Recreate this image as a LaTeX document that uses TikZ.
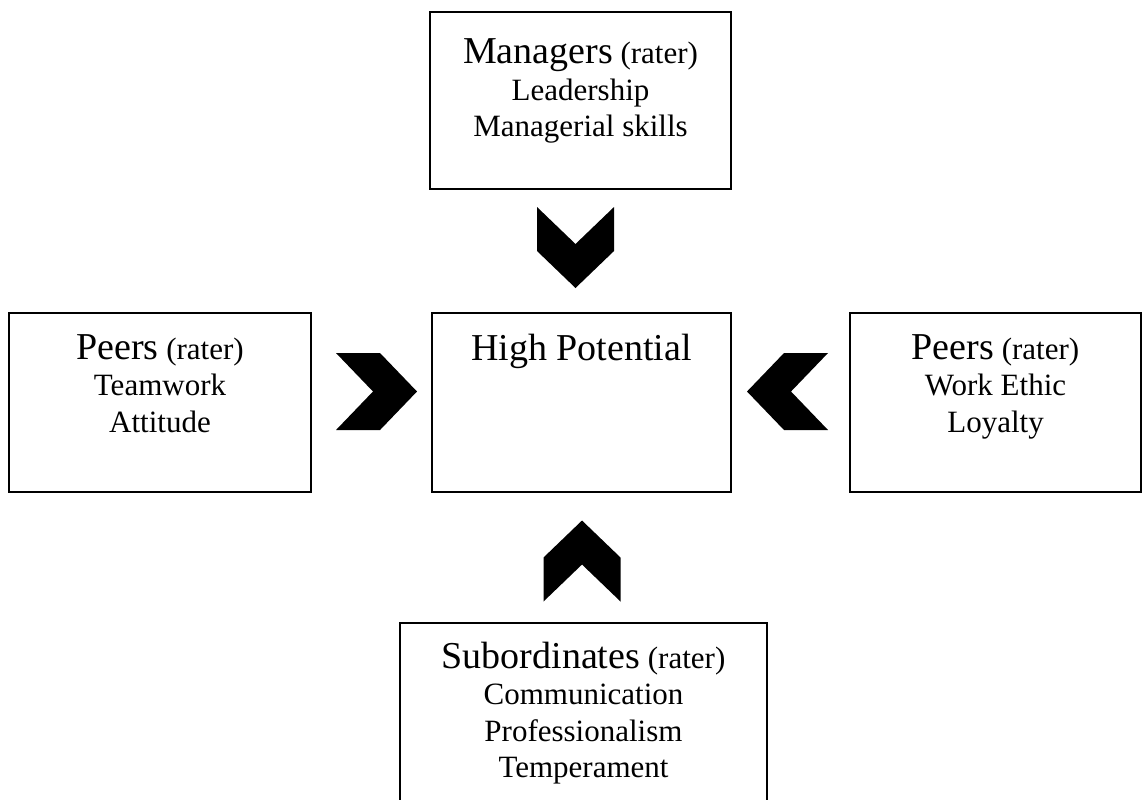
\documentclass[tikz,border=0pt]{standalone}
\usepackage{fontspec}
\setmainfont{Liberation Serif}
\usetikzlibrary{positioning}
\newcommand\bigsz{\fontsize{19}{18.25}\selectfont}
\newcommand\smallsz{\fontsize{15.5}{18.25}\selectfont}
\newcommand\chevron[3]{\fill[shift={(#1,#2)},rotate=#3] (-40.5,-38.5) -- (3.5,-38.5) -- (40.5,0) -- (3.5,38.5) -- (-40.5,38.5) -- (-3.5,0) -- cycle;}
\tikzset{
  ratebox/.style={draw, line width=1pt, inner sep=0pt, minimum height=89.5pt},
  ratetext/.style={align=center, inner sep=0pt, font=\smallsz}
}

\begin{document}
\begin{tikzpicture}[x=0.5pt,y=-0.5pt]
\useasboundingbox (0,0) rectangle (1143,799);
\clip (0,0) rectangle (1143,799);
% boxes
\node[ratebox, minimum width=150.5pt, minimum height=88.5pt] (mgr) at (580.5,100.5) {};
\node[ratebox, minimum width=149.5pt] (hp) at (581.5,402.5) {};
\node[ratebox, minimum width=151pt] (peerl) at (160,402.5) {};
\node[ratebox, minimum width=145.5pt] (peerr) at (995.5,402.5) {};
\node[ratebox, minimum width=183.5pt, minimum height=108.5pt] (sub) at (583.5,731.5) {};
% texts
\node[ratetext, below=13.5pt of mgr.north] (mgr-t) {\strut{\bigsz Managers} (rater)\\Leadership\\Managerial skills};
\node[ratetext, below=10.7pt of hp.north] (hp-t) {\strut{\bigsz High Potential}};
\node[ratetext, below=10.7pt of peerl.north] (peerl-t) {\strut{\bigsz Peers} (rater)\\Teamwork\\Attitude};
\node[ratetext, below=10.7pt of peerr.north] (peerr-t) {\strut{\bigsz Peers} (rater)\\Work Ethic\\Loyalty};
\node[ratetext, below=9.7pt of sub.north] (sub-t) {\strut{\bigsz Subordinates} (rater)\\Communication\\Professionalism\\Temperament};
% chevrons
\chevron{575.5}{247.5}{-90}
\chevron{376.5}{391.5}{0}
\chevron{787.5}{391.5}{180}
\chevron{582}{561}{90}
\end{tikzpicture}
\end{document}
